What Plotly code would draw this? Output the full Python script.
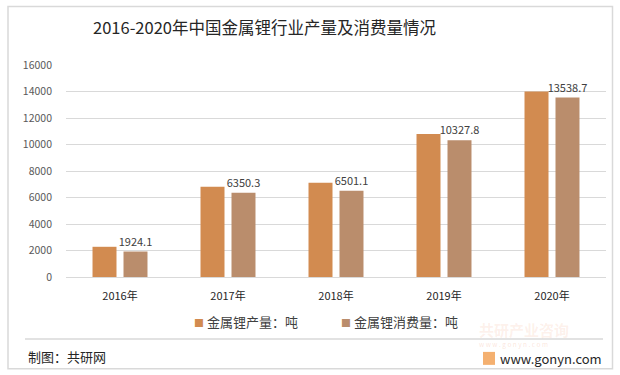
import plotly.graph_objects as go

years = ["2016年", "2017年", "2018年", "2019年", "2020年"]
production = [2280, 6810, 7110, 10800, 14000]
consumption = [1924.1, 6350.3, 6501.1, 10327.8, 13538.7]
name_prod = "金属锂产量：吨"
name_cons = "金属锂消费量：吨"
title_text = "2016-2020年中国金属锂行业产量及消费量情况"
y_ticks = [0, 2000, 4000, 6000, 8000, 10000, 12000, 14000, 16000]
y_tick_text = [str(v) for v in y_ticks]

COLOR_PROD = "#D28B50"
COLOR_CONS = "#BA8D6C"

W, H = 620, 375
L, R, T, B = 66, 14, 64.7, 98
PW, PH = W - L - R, H - T - B

def px(x):
    return (x - L) / PW

def py(y):
    return (H - B - y) / PH

FONT = "Noto Sans CJK SC"

fig = go.Figure()
fig.add_trace(go.Bar(
    x=years, y=production, name=name_prod,
    marker=dict(color=COLOR_PROD, line=dict(width=0)),
    hoverinfo="skip", showlegend=False,
))
fig.add_trace(go.Bar(
    x=years, y=consumption, name=name_cons,
    marker=dict(color=COLOR_CONS, line=dict(width=0)),
    text=[f"{v:.1f}" for v in consumption],
    textposition="outside", cliponaxis=False, constraintext="none",
    textfont=dict(family=FONT, size=11, color="#404040"),
    hoverinfo="skip", showlegend=False,
))

shapes = [
    dict(type="rect", xref="paper", yref="paper",
         x0=px(8), x1=px(612.5), y0=py(369), y1=py(6),
         line=dict(color="#D9D9D9", width=1.5), layer="below"),
    dict(type="line", xref="paper", yref="paper",
         x0=px(25), x1=px(603), y0=py(339), y1=py(339),
         line=dict(color="#D9D9D9", width=1.5)),
    dict(type="rect", xref="paper", yref="paper",
         x0=px(483), x1=px(495), y0=py(365), y1=py(352),
         line=dict(width=0), fillcolor="#F4B070"),
]

def legend_entry(color, label):
    return f"<span style='color:{color};font-size:10px'>■</span> {label}"

annotations = [
    dict(text=title_text, xref="paper", yref="paper",
         x=px(264.5), y=py(27), xanchor="center", yanchor="middle",
         showarrow=False, font=dict(family=FONT, size=16.5, color="#262626")),
    dict(text=legend_entry(COLOR_PROD, name_prod), xref="paper", yref="paper",
         x=px(192), y=py(322), xanchor="left", yanchor="middle",
         showarrow=False, font=dict(family=FONT, size=13, color="#404040")),
    dict(text=legend_entry(COLOR_CONS, name_cons), xref="paper", yref="paper",
         x=px(339), y=py(322), xanchor="left", yanchor="middle",
         showarrow=False, font=dict(family=FONT, size=13, color="#404040")),
    dict(text="制图：共研网", xref="paper", yref="paper",
         x=px(26), y=py(357), xanchor="left", yanchor="middle",
         showarrow=False, font=dict(family=FONT, size=13, color="#262626")),
    dict(text="<b>共研产业咨询</b>", xref="paper", yref="paper",
         x=px(477), y=py(330), xanchor="left", yanchor="middle",
         showarrow=False, font=dict(family=FONT, size=15, color="rgba(240,150,110,0.14)")),
    dict(text="w w w . g o n y n . c o m", xref="paper", yref="paper",
         x=px(477), y=py(344.5), xanchor="left", yanchor="middle",
         showarrow=False, font=dict(family=FONT, size=6.5, color="rgba(240,150,110,0.25)")),
    dict(text="www.gonyn.com", xref="paper", yref="paper",
         x=px(498), y=py(358.5), xanchor="left", yanchor="middle",
         showarrow=False, font=dict(family=FONT, size=13, color="#262626")),
]

fig.update_layout(
    width=W, height=H,
    margin=dict(l=L, r=R, t=T, b=B, pad=0, autoexpand=False),
    paper_bgcolor="white", plot_bgcolor="white",
    barmode="group", bargap=0.426, bargroupgap=0.226,
    showlegend=False,
    xaxis=dict(showgrid=False, showline=False, ticks="",
               tickfont=dict(family=FONT, size=11, color="#262626"),
               ticklabelstandoff=11, automargin=False),
    yaxis=dict(range=[0, 16000], tickvals=y_ticks, ticktext=y_tick_text,
               showgrid=True, gridcolor="#D9D9D9", gridwidth=1, zeroline=True,
               zerolinecolor="#D9D9D9", zerolinewidth=1, showline=False,
               ticks="", tickfont=dict(family=FONT, size=10.5, color="#595959"),
               ticklabelstandoff=13, automargin=False),
    shapes=shapes, annotations=annotations,
    hovermode=False,
)

fig.write_html("out.html", config={"displayModeBar": False},
               post_script="document.body.style.margin='0';")
